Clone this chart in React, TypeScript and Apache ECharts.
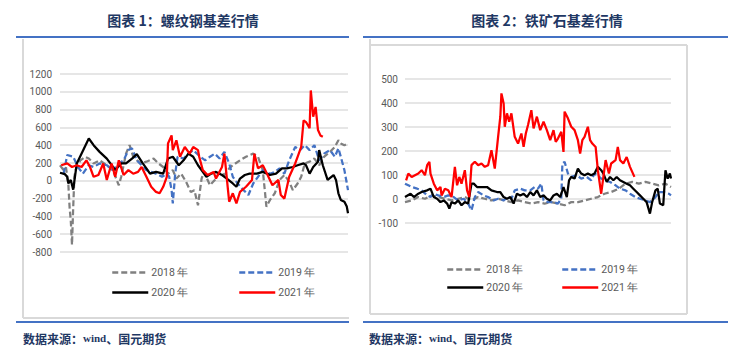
import React, { useEffect, useRef } from "react";
import * as echarts from "echarts";

// ---------- data ----------
const seriesNames = ["2018 年", "2019 年", "2020 年", "2021 年"];
const seriesColors = ["#808080", "#4472C4", "#000000", "#FF0000"];

const titleLeft = "图表 1：螺纹钢基差行情";
const titleRight = "图表 2：铁矿石基差行情";

const rebarTicks = { min: -800, max: 1200, interval: 200 };
const ironTicks = { min: -100, max: 500, interval: 100 };
const dayRange = { min: 0, max: 240 };

// rebar basis, [trading day, basis]
const rebar2018: [number, number][] = [
  [0, 175], [3, 120], [5, 150], [7, -50], [8, -300], [9, -450], [10, -720], [11, -300], [12, 50], [13, 120],
  [17, 230], [21, 270], [24, 250], [28, 195], [33, 230], [39, 175], [44, 120], [49, -50], [51, 45], [55, 305],
  [58, 400], [61, 270], [67, 195], [72, 215], [78, 250], [82, 195], [86, 155], [90, 80], [94, 120], [97, 25],
  [101, 80], [105, -10], [109, -125], [112, -105], [115, -275], [118, 25], [120, 100], [125, -50], [129, 10],
  [133, 100], [137, 65], [141, 140], [144, 175], [150, 230], [155, 270], [161, 305], [165, 270], [169, 120],
  [172, -290], [175, -215], [179, -140], [183, 10], [187, 65], [191, -10], [194, -105], [198, -30], [201, 45],
  [204, 195], [208, 215], [212, 250], [216, 175], [220, 270], [225, 325], [229, 380], [232, 455], [234, 420],
  [237, 400], [240, 420],
];
const rebar2019: [number, number][] = [
  [3, 80], [6, 290], [11, 270], [15, 155], [19, 80], [24, 175], [28, 155], [33, 195], [39, 175], [44, 120],
  [49, 195], [53, 230], [57, 345], [60, 365], [64, 230], [68, 175], [72, 120], [76, 100], [80, 80], [85, 45],
  [89, 80], [91, 45], [93, -105], [94, -255], [96, 80], [98, 270], [103, 250], [107, 305], [111, 345], [117, 270],
  [121, 230], [125, 270], [129, 305], [133, 250], [137, 325], [141, 195], [144, 45], [148, -30], [153, -105],
  [157, -160], [161, -30], [165, 45], [169, 120], [175, 80], [179, 100], [183, 140], [187, 80], [191, 230],
  [196, 380], [200, 345], [204, 400], [208, 345], [212, 400], [216, 230], [220, 305], [225, 345], [229, 270],
  [232, 365], [234, 270], [237, 120], [240, -105],
];
const rebar2020: [number, number][] = [
  [0, 90], [4, 75], [6, 45], [7, -30], [9, 10], [11, -100], [14, 195], [24, 475], [28, 400], [33, 325],
  [39, 250], [42, 195], [46, 120], [51, 195], [55, 195], [60, 250], [64, 300], [69, 195], [72, 140], [75, 80],
  [80, 100], [86, 80], [90, 250], [94, 270], [99, 175], [103, 230], [107, 305], [111, 270], [115, 175], [119, 100],
  [122, 45], [126, 80], [130, 100], [135, 65], [139, 25], [144, -30], [147, -67], [150, 25], [154, 65], [158, 80],
  [164, 80], [169, 100], [175, 65], [180, 80], [185, 140], [189, 140], [194, 155], [198, 175], [203, 195],
  [205, 175], [208, 80], [211, 155], [215, 215], [216, 345], [219, 175], [223, 10], [228, 65], [230, 10],
  [232, -140], [234, -215], [237, -235], [239, -290], [240, -365],
];
const rebar2021: [number, number][] = [
  [1, 175], [6, 195], [10, 155], [14, 175], [18, 155], [22, 230], [25, 155], [28, 45], [32, 65], [36, 195],
  [39, 10], [43, 195], [46, 45], [49, 230], [53, 65], [57, 120], [61, 80], [65, 100], [68, 155], [72, 45],
  [76, -67], [80, -125], [83, -140], [86, -67], [89, 45], [90, 420], [93, 510], [94, 345], [97, 455], [100, 270],
  [104, 380], [108, 305], [111, 380], [115, 345], [116, 270], [119, 120], [123, 65], [128, 100], [130, 25],
  [135, 155], [137, 305], [140, -105], [141, -235], [144, -140], [147, -255], [150, -125], [155, -67], [160, 10],
  [162, 305], [165, 140], [169, 175], [173, 65], [177, -50], [182, 10], [184, -160], [187, -200], [191, 45],
  [196, 195], [198, 270], [201, 380], [203, 680], [205, 660], [208, 590], [209, 1015], [211, 720], [213, 830],
  [215, 570], [217, 510], [219, 495],
];

// iron ore basis, [trading day, basis]
const iron2018: [number, number][] = [
  [0, -13], [6, -6], [12, 8], [18, 1], [24, 15], [30, 8], [36, 1], [42, -6], [48, 1], [54, 8], [60, -6],
  [66, 8], [72, 1], [78, -6], [84, 1], [90, -6], [96, -13], [102, -6], [108, -13], [114, -19], [120, -13],
  [126, -19], [132, -13], [138, -19], [144, -26], [150, -13], [156, -13], [162, -6], [168, 1], [174, 8],
  [180, 22], [186, 29], [193, 43], [199, 64], [205, 71], [211, 64], [217, 71], [223, 64], [229, 57], [235, 64],
  [240, 50],
];
const iron2019: [number, number][] = [
  [0, 64], [3, 57], [6, 50], [11, 43], [15, 36], [20, 15], [23, 8], [26, 22], [30, 15], [35, 8], [39, 15],
  [44, 8], [48, -6], [53, 1], [57, -19], [60, -47], [63, 8], [66, 29], [71, 15], [75, 8], [80, -6], [84, 1],
  [89, -6], [93, 8], [96, 1], [99, 36], [104, 43], [108, 36], [113, 36], [117, 50], [120, 43], [123, 64],
  [125, -6], [129, -13], [134, -13], [138, -19], [141, 1], [142, 148], [144, 155], [147, 106], [150, 92],
  [155, 99], [159, 85], [164, 92], [168, 78], [171, 106], [174, 99], [177, 85], [180, 78], [185, 71], [190, 57],
  [194, 43], [199, 36], [203, 22], [208, 8], [212, 1], [217, -6], [221, -13], [226, 8], [229, 29], [233, 29],
  [238, 22], [240, 15],
];
const iron2020: [number, number][] = [
  [0, 8], [5, 22], [8, 8], [12, 22], [15, 29], [20, 36], [23, 43], [26, 8], [29, 1], [32, -13], [35, -6],
  [38, -19], [40, -40], [42, -13], [45, -19], [48, -6], [51, -26], [54, -13], [57, -19], [60, 64], [62, 64],
  [65, 50], [69, 50], [74, 50], [78, 36], [83, 29], [86, 29], [89, 8], [92, 1], [95, 8], [98, -19], [101, 22],
  [104, 15], [107, 22], [110, 8], [113, 29], [116, 15], [119, 36], [122, 8], [125, 15], [128, 1], [131, -6],
  [134, 15], [137, 22], [140, 8], [143, 50], [146, 8], [148, 78], [150, 92], [153, 85], [156, 127], [159, 106],
  [162, 99], [165, 106], [168, 99], [171, 106], [174, 134], [177, 120], [179, 106], [182, 71], [185, 92],
  [188, 78], [191, 92], [194, 78], [197, 71], [200, 64], [203, 57], [206, 43], [209, 29], [212, 15], [215, 1],
  [218, -13], [221, -61], [223, -13], [226, 36], [228, 43], [230, -19], [233, -26], [235, 120], [237, 85],
  [239, 106], [240, 85],
];
const iron2021: [number, number][] = [
  [1, 78], [3, 106], [6, 92], [9, 99], [12, 106], [15, 120], [18, 99], [20, 141], [22, 155], [23, 106],
  [26, 64], [29, 36], [32, 50], [33, 15], [36, 43], [39, 36], [42, 8], [45, 134], [47, 57], [49, 92], [51, 64],
  [54, 120], [56, 36], [58, 8], [60, 141], [63, 155], [66, 141], [69, 148], [72, 134], [75, 141], [78, 203],
  [81, 127], [84, 259], [86, 343], [87, 440], [89, 398], [90, 301], [92, 357], [94, 322], [96, 357], [99, 259],
  [102, 231], [105, 273], [107, 217], [109, 273], [111, 308], [114, 370], [116, 294], [119, 343], [122, 287],
  [125, 322], [128, 287], [131, 245], [134, 287], [136, 238], [138, 252], [141, 280], [143, 196], [144, 364],
  [147, 336], [150, 301], [153, 287], [156, 245], [158, 189], [160, 245], [162, 259], [165, 301], [167, 245],
  [169, 231], [172, 217], [174, 120], [177, 22], [179, 92], [181, 162], [184, 106], [186, 148], [190, 162],
  [192, 217], [194, 162], [197, 148], [200, 175], [203, 134], [205, 113], [207, 92],
];

const rebarData = [rebar2018, rebar2019, rebar2020, rebar2021];
const ironData = [iron2018, iron2019, iron2020, iron2021];

// ---------- component ----------
const FONT = "Roboto, 'Noto Sans', sans-serif";
const CJK = "'Noto Sans CJK SC', sans-serif";
const NAVY = "#1F3864";
const BLUE = "#4472C4";
const FRAME = "#D9D9D9";

function makeSeries(data: [number, number][][], axisIndex: number) {
  return data.map((d, i) => ({
    type: "line",
    name: seriesNames[i],
    data: d,
    xAxisIndex: axisIndex,
    yAxisIndex: axisIndex,
    showSymbol: false,
    symbol: "none",
    color: seriesColors[i],
    lineStyle: {
      color: seriesColors[i],
      width: 2.25,
      type: i < 2 ? [6, 3] : "solid",
    },
    z: 2 + i,
  }));
}

function legendAt(name: string, left: number, top: number) {
  return {
    data: [name],
    left,
    top,
    padding: 0,
    itemWidth: 36,
    itemHeight: 12,
    itemGap: 0,
    selectedMode: false,
    itemStyle: { opacity: 0 },
    textStyle: { color: "#595959", fontSize: 10.5, fontFamily: FONT, padding: [0, 0, 0, -2] },
    lineStyle: { width: 2.5 },
  };
}

function yAxis(gridIndex: number, t: { min: number; max: number; interval: number }, margin: number) {
  return {
    type: "value",
    gridIndex,
    min: t.min,
    max: t.max,
    interval: t.interval,
    axisLine: { show: false },
    axisTick: { show: false },
    axisLabel: {
      color: "#595959",
      fontSize: 10,
      fontFamily: FONT,
      margin,
      formatter: (v: number) => String(v),
    },
    splitLine: { lineStyle: { color: "#DEDEDE", width: 1.5 } },
  };
}

function xAxis(gridIndex: number) {
  return {
    type: "value",
    gridIndex,
    min: dayRange.min,
    max: dayRange.max,
    show: false,
    splitLine: { show: false },
  };
}

function textEl(text: string, x: number, y: number, align: string) {
  return {
    type: "text",
    x,
    y,
    style: {
      text,
      fill: NAVY,
      fontSize: 14,
      fontWeight: "bold",
      fontFamily: CJK,
      align,
      verticalAlign: "middle",
      textAlign: align,
      textVerticalAlign: "middle",
    },
  };
}

function sourceEl(x: number, y: number) {
  return {
    type: "text",
    x,
    y,
    style: {
      text: "{a|数据来源：}{b|wind}{a|、国元期货}",
      fill: NAVY,
      verticalAlign: "middle",
      textVerticalAlign: "middle",
      rich: {
        a: { fontSize: 12, fontWeight: "bold", fontFamily: CJK, fill: NAVY, color: NAVY },
        b: { fontSize: 11, fontWeight: "bold", fontFamily: "'Liberation Serif', serif", fill: NAVY, color: NAVY },
      },
    },
  };
}

function lineEl(x1: number, y1: number, x2: number, y2: number, stroke: string, lineWidth: number) {
  return { type: "line", shape: { x1, y1, x2, y2 }, style: { stroke, lineWidth }, z: 0 };
}

export default function App() {
  const ref = useRef<HTMLDivElement>(null);

  useEffect(() => {
    if (!ref.current) return;
    const chart = echarts.init(ref.current, undefined, { renderer: "svg" });
    chart.setOption({
      animation: false,
      backgroundColor: "#FFFFFF",
      grid: [
        { left: 60, right: 396, top: 74, bottom: 100 },
        { left: 405, right: 73, top: 79, bottom: 129 },
      ],
      xAxis: [xAxis(0), xAxis(1)],
      yAxis: [yAxis(0, rebarTicks, 8), yAxis(1, ironTicks, 7)],
      legend: [
        legendAt(seriesNames[0], 111, 267),
        legendAt(seriesNames[1], 238, 267),
        legendAt(seriesNames[2], 111, 287),
        legendAt(seriesNames[3], 238, 287),
        legendAt(seriesNames[0], 446, 264),
        legendAt(seriesNames[1], 561, 264),
        legendAt(seriesNames[2], 446, 282),
        legendAt(seriesNames[3], 561, 282),
      ],
      series: [...makeSeries(rebarData, 0), ...makeSeries(ironData, 1)],
      graphic: [
        // titles
        textEl(titleLeft, 183, 20, "center"),
        textEl(titleRight, 547, 20, "center"),
        // top blue rules
        lineEl(16, 37, 349, 37, BLUE, 2),
        lineEl(363, 37, 728, 37, BLUE, 2),
        // left frame
        lineEl(23, 39, 23, 318, FRAME, 2),
        lineEl(23, 318, 349, 318, FRAME, 2),
        // right frame
        lineEl(370, 45, 687, 45, FRAME, 2),
        lineEl(687, 45, 687, 314, FRAME, 2),
        lineEl(370, 314, 687, 314, FRAME, 2),
        lineEl(370, 39, 370, 314, FRAME, 2),
        // bottom blue rules
        lineEl(16, 322, 349, 322, BLUE, 2),
        lineEl(363, 322, 728, 322, BLUE, 2),
        // sources
        sourceEl(23, 338),
        sourceEl(369, 338),
      ],
    });
    return () => chart.dispose();
  }, []);

  return (
    <div
      ref={ref}
      style={{ position: "absolute", left: 0, top: 0, width: 744, height: 352, background: "#fff" }}
    />
  );
}
